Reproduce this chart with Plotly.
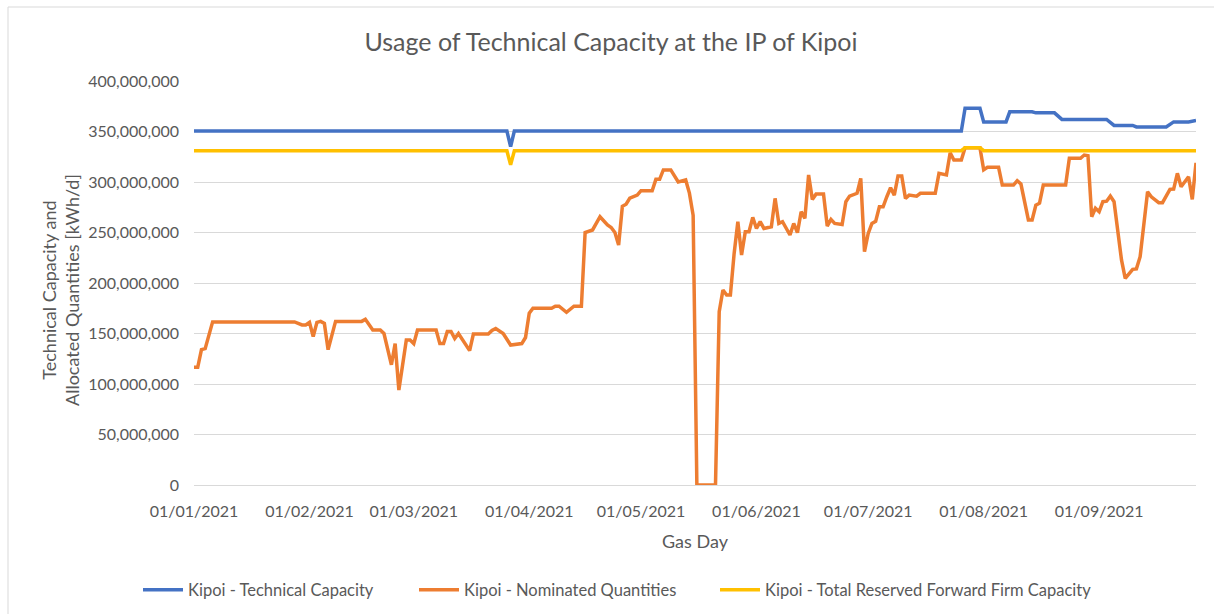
import plotly.graph_objects as go

# ---------------- data (values in kWh/d, millions) ----------------
tech_dates = ["2021-01-01", "2021-03-26", "2021-03-27", "2021-03-28", "2021-07-26", "2021-07-27",
              "2021-07-31", "2021-08-01", "2021-08-07", "2021-08-08", "2021-08-14", "2021-08-15",
              "2021-08-20", "2021-08-22", "2021-09-03", "2021-09-05", "2021-09-10", "2021-09-11",
              "2021-09-19", "2021-09-21", "2021-09-25", "2021-09-26", "2021-09-27"]
tech_vals_m = [350.5, 350.5, 335, 350.5, 350.5, 373,
               373, 359.5, 359.5, 369.5, 369.5, 368.5,
               368.5, 362, 362, 356, 356, 354.5,
               354.5, 359.5, 359.5, 360.5, 361]

firm_dates = ["2021-01-01", "2021-03-26", "2021-03-27", "2021-03-28", "2021-07-26", "2021-07-27",
              "2021-07-31", "2021-08-01", "2021-09-27"]
firm_vals_m = [331, 331, 317, 331, 331, 334, 334, 331, 331]

nom_dates = ["2021-01-01", "2021-01-02", "2021-01-03", "2021-01-04", "2021-01-06", "2021-01-28",
             "2021-01-30", "2021-01-31", "2021-02-01", "2021-02-02", "2021-02-03", "2021-02-04",
             "2021-02-05", "2021-02-06", "2021-02-08", "2021-02-15", "2021-02-16", "2021-02-18",
             "2021-02-20", "2021-02-21", "2021-02-23", "2021-02-24", "2021-02-25", "2021-02-27",
             "2021-02-28", "2021-03-01", "2021-03-02", "2021-03-07", "2021-03-08", "2021-03-09",
             "2021-03-10", "2021-03-11", "2021-03-12", "2021-03-13", "2021-03-16", "2021-03-17",
             "2021-03-21", "2021-03-22", "2021-03-23", "2021-03-25", "2021-03-27", "2021-03-29",
             "2021-03-30", "2021-03-31", "2021-04-01", "2021-04-02", "2021-04-07", "2021-04-08",
             "2021-04-09", "2021-04-11", "2021-04-13", "2021-04-15", "2021-04-16", "2021-04-18",
             "2021-04-20", "2021-04-22", "2021-04-23", "2021-04-24", "2021-04-25", "2021-04-26",
             "2021-04-27", "2021-04-28", "2021-04-30", "2021-05-01", "2021-05-04", "2021-05-05",
             "2021-05-06", "2021-05-07", "2021-05-09", "2021-05-11", "2021-05-12", "2021-05-13",
             "2021-05-14", "2021-05-15", "2021-05-16", "2021-05-21", "2021-05-22", "2021-05-23",
             "2021-05-24", "2021-05-25", "2021-05-26", "2021-05-27", "2021-05-28", "2021-05-29",
             "2021-05-30", "2021-05-31", "2021-06-01", "2021-06-02", "2021-06-03", "2021-06-05",
             "2021-06-06", "2021-06-07", "2021-06-08", "2021-06-10", "2021-06-11", "2021-06-12",
             "2021-06-13", "2021-06-14", "2021-06-15", "2021-06-16", "2021-06-17", "2021-06-19",
             "2021-06-20", "2021-06-21", "2021-06-22", "2021-06-24", "2021-06-25", "2021-06-26",
             "2021-06-28", "2021-06-29", "2021-06-30", "2021-07-01", "2021-07-02", "2021-07-03",
             "2021-07-04", "2021-07-05", "2021-07-06", "2021-07-07", "2021-07-08", "2021-07-09",
             "2021-07-10", "2021-07-11", "2021-07-12", "2021-07-14", "2021-07-15", "2021-07-19",
             "2021-07-20", "2021-07-22", "2021-07-23", "2021-07-24", "2021-07-26", "2021-07-27",
             "2021-07-31", "2021-08-01", "2021-08-02", "2021-08-05", "2021-08-06", "2021-08-09",
             "2021-08-10", "2021-08-11", "2021-08-13", "2021-08-14", "2021-08-15", "2021-08-16",
             "2021-08-17", "2021-08-23", "2021-08-24", "2021-08-27", "2021-08-28", "2021-08-29",
             "2021-08-30", "2021-08-31", "2021-09-01", "2021-09-02", "2021-09-03", "2021-09-04",
             "2021-09-05", "2021-09-07", "2021-09-08", "2021-09-10", "2021-09-11", "2021-09-12",
             "2021-09-14", "2021-09-15", "2021-09-17", "2021-09-18", "2021-09-20", "2021-09-21",
             "2021-09-22", "2021-09-23", "2021-09-25", "2021-09-26", "2021-09-27"]
nom_vals_m = [116.5, 116.5, 134, 135, 161.5, 161.5,
              158.5, 158.5, 161, 147, 161, 162,
              160, 134, 162, 162, 164, 153.5,
              153.5, 150, 119, 140, 94, 143.5,
              143.5, 140, 153.5, 153.5, 140, 140,
              152, 152, 145, 150, 133, 149.5,
              149.5, 153, 155, 150, 138.6, 139,
              140, 146, 170, 175, 175, 177,
              177, 171, 177, 177, 250, 252.5,
              265.6, 257.4, 255, 250, 237.6, 276,
              278, 284, 287, 291.4, 291.4, 302.6,
              302.6, 312, 312, 300, 301, 302,
              289, 267, 0, 0, 171.6, 193,
              188, 188, 229, 260.7, 227.7, 250.8,
              250.8, 265, 254, 260.7, 254, 255.7,
              283.8, 259, 260.7, 247.5, 259, 249.8,
              270.6, 264, 307, 282.8, 288, 288,
              256.4, 263, 259, 258, 280.5, 286,
              288.8, 303.6, 231, 249, 259, 261,
              275.5, 275.5, 285.4, 294.3, 287, 306,
              306, 283.8, 287, 286, 288.8, 288.8,
              308.6, 307, 329, 321.7, 321.7, 334,
              334, 312, 314.5, 314.5, 297, 297,
              301.3, 298, 262.4, 262.4, 277, 279,
              297, 297, 323.5, 323.5, 326.7, 326,
              265.6, 274, 270.6, 280.5, 281, 286,
              280.5, 222.8, 204.6, 213.5, 214, 226,
              290.4, 285.4, 279.5, 279.5, 292.7, 293,
              308.6, 295.3, 305.2, 282.8, 319]

tick_dates = ["2021-01-01", "2021-02-01", "2021-03-01", "2021-04-01", "2021-05-01",
              "2021-06-01", "2021-07-01", "2021-08-01", "2021-09-01"]
tick_labels = ["01/01/2021", "01/02/2021", "01/03/2021", "01/04/2021", "01/05/2021",
               "01/06/2021", "01/07/2021", "01/08/2021", "01/09/2021"]

series_names = ["Kipoi - Technical Capacity", "Kipoi - Nominated Quantities",
                "Kipoi - Total Reserved Forward Firm Capacity"]
series_colors = ["#4472C4", "#ED7D31", "#FFC000"]

# ---------------- figure ----------------
M = 1_000_000
FONT = "Lato, 'Open Sans', sans-serif"
GREY = "#595959"

L, R, T, B = 194, 18, 81, 129
W, H = 1214, 614
pw, ph = W - L - R, H - T - B

def px_x(x):
    return (x - L) / pw

def px_y(y):
    return (H - B - y) / ph

legend_ids = ["legend", "legend2", "legend3"]
legend_left_px = [138, 414, 715]

fig = go.Figure()
for name, color, xs, ys, lg in zip(series_names, series_colors,
                                   [tech_dates, nom_dates, firm_dates],
                                   [tech_vals_m, nom_vals_m, firm_vals_m], legend_ids):
    fig.add_trace(go.Scatter(x=xs, y=[v * M for v in ys], mode="lines", name=name,
                             legend=lg,
                             line=dict(color=color, width=3.5, shape="linear")))

legend_layout = {}
for lg, lx in zip(legend_ids, legend_left_px):
    legend_layout[lg] = dict(orientation="h", x=lx / W, xanchor="left", xref="container",
                             y=1 - 590 / H, yanchor="middle", yref="container",
                             font=dict(size=16.5, color=GREY, family=FONT),
                             itemwidth=40, bgcolor="rgba(0,0,0,0)", borderwidth=0)

fig.update_layout(
    width=W, height=H,
    margin=dict(l=L, r=R, t=T, b=B, autoexpand=False),
    paper_bgcolor="white", plot_bgcolor="white",
    font=dict(family=FONT, color=GREY, size=16),
    title=dict(text="Usage of Technical Capacity at the IP of Kipoi",
               x=611 / W, xanchor="center", xref="container",
               y=1 - 42 / H, yanchor="middle", yref="container",
               font=dict(size=25, color=GREY, family=FONT)),
    showlegend=True,
    xaxis=dict(type="date", range=["2021-01-01", "2021-09-27"],
               tickvals=tick_dates, ticktext=tick_labels, tickangle=0,
               showgrid=False, zeroline=False, showline=True, linecolor="#d9d9d9", linewidth=1,
               ticks="", ticklabelstandoff=12,
               tickfont=dict(size=16, color=GREY, family=FONT)),
    yaxis=dict(range=[0, 400 * M], tickvals=[i * 50 * M for i in range(9)],
               tickformat=",d", showgrid=True, gridcolor="#d9d9d9", gridwidth=1,
               zeroline=False, showline=False, ticks="", ticklabelstandoff=14,
               tickfont=dict(size=16, color=GREY, family=FONT)),
    annotations=[
        dict(text="Gas Day", x=px_x(695), y=px_y(541), xref="paper", yref="paper",
             xanchor="center", yanchor="middle", showarrow=False,
             font=dict(size=18, color=GREY, family=FONT)),
        dict(text="Technical Capacity and<br>Allocated Quantities [kWh/d]",
             x=px_x(60), y=px_y(290), xref="paper", yref="paper", textangle=-90,
             xanchor="center", yanchor="middle", showarrow=False,
             font=dict(size=18, color=GREY, family=FONT)),
    ],
    shapes=[dict(type="rect", xref="paper", yref="paper",
                 x0=px_x(8), x1=px_x(1240), y0=px_y(640), y1=px_y(7),
                 line=dict(color="#d9d9d9", width=1), fillcolor="rgba(0,0,0,0)", layer="below")],
    **legend_layout,
)

fig.write_html("out.html", post_script="document.body.style.margin='0';",
               config={"displayModeBar": False})
